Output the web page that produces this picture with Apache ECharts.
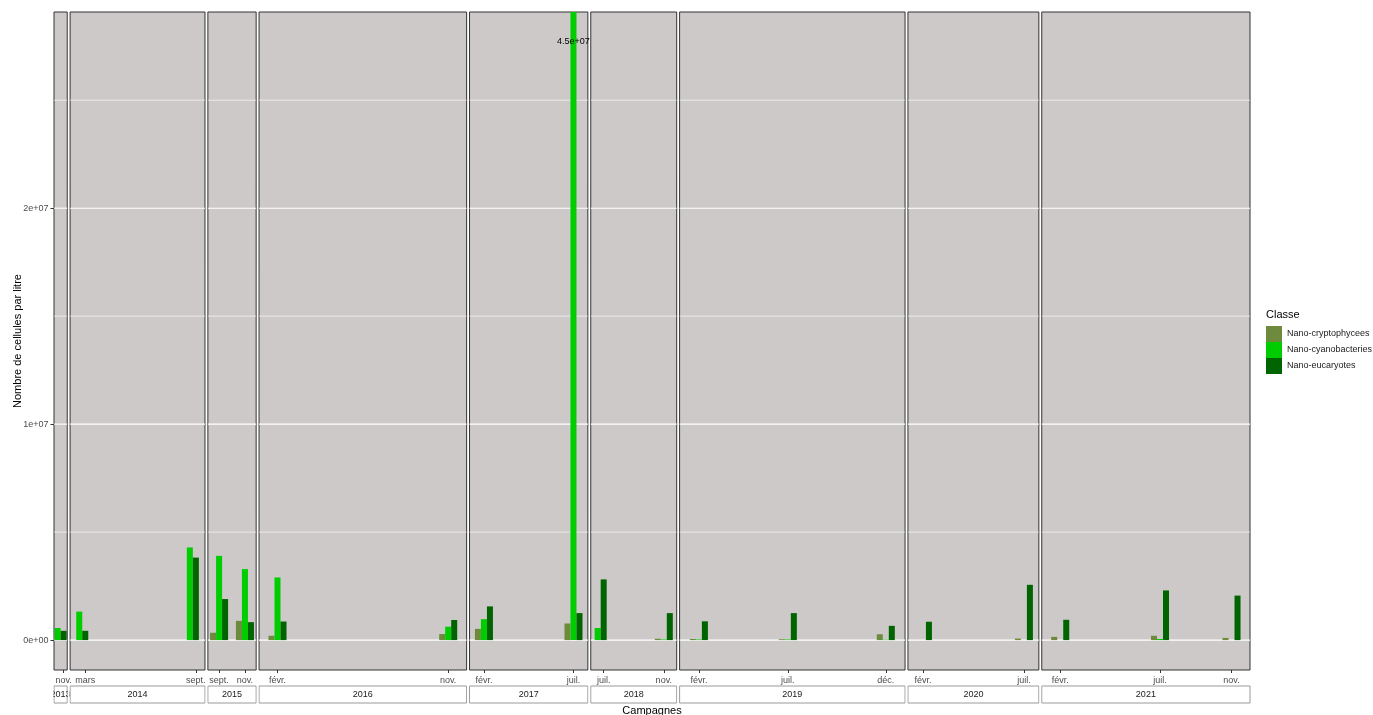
<!DOCTYPE html>
<html>
<head>
<meta charset="utf-8">
<script src="https://cdn.jsdelivr.net/npm/echarts@6/dist/echarts.min.js"></script>
<style>
  html, body { margin: 0; padding: 0; background: #ffffff; }
  #chart { width: 1373px; height: 715px; }
</style>
</head>
<body>
<div id="chart"></div>
<script>
// Sampling campaigns (one date per campaign)
const campaignDates = [
  '2013-11-20',
  '2014-03-12', '2014-09-12',
  '2015-09-20', '2015-11-02',
  '2016-02-10', '2016-11-20',
  '2017-02-10', '2017-07-09',
  '2018-07-25', '2018-11-02',
  '2019-02-10', '2019-07-08', '2019-12-18',
  '2020-02-05', '2020-07-22',
  '2021-02-05', '2021-07-21', '2021-11-17'
];

// Classes shown in the legend
const classes = ['Nano-cryptophycees', 'Nano-cyanobacteries', 'Nano-eucaryotes'];

// Cells per litre for each campaign (null = class not counted that campaign)
const cryptophycees = [null, null, null, 3.4e5, 8.9e5, 2.0e5, 2.8e5, 5.2e5, 7.7e5, null, 6e4, 5e4, 4e4, 2.7e5, 0, 7e4, 1.5e5, 2.0e5, 1.0e5];
const cyanobacteries = [5.6e5, 1.32e6, 4.29e6, 3.9e6, 3.29e6, 2.9e6, 6.2e5, 9.7e5, 4.5e7, 5.6e5, 3e4, 3e4, 3e4, 2e4, 0, 0, 0, 5e4, 0];
const eucaryotes = [4.3e5, 4.3e5, 3.82e6, 1.9e6, 8.3e5, 8.6e5, 9.3e5, 1.56e6, 1.25e6, 2.81e6, 1.25e6, 8.7e5, 1.25e6, 6.6e5, 8.5e5, 2.56e6, 9.4e5, 2.3e6, 2.06e6];

// Y axis breaks
const yTicks = [0, 1e7, 2e7];
const yMinorTicks = [5e6, 1.5e7, 2.5e7];
// Upper display limit; taller bars are clipped and their value written at this height
const yUpper = 2.77e7;

const monthLabels = ['janv.', 'févr.', 'mars', 'avr.', 'mai', 'juin', 'juil.', 'août', 'sept.', 'oct.', 'nov.', 'déc.'];

// ---------------------------------------------------------------------------
const seriesValues = [cryptophycees, cyanobacteries, eucaryotes];
const COLORS = ['#6E8B3D', '#00CD00', '#006400'];
const FONT = "'Liberation Sans', Arial, sans-serif";
const DAY = 86400000;
const SLOT = 10 * DAY;              // width of one dodged bar
const X0 = 54, X1 = 1250, GAP = 2.9, TOP = 12, BOTTOM = 670;
const yMin = -0.05 * yUpper, yMax = 1.05 * yUpper;

// R-style scientific labels: 1e+07, 4.5e+07
function sci(v) {
  const [m, e] = Number(v).toExponential().split('e');
  return m + 'e' + e[0] + e.slice(1).padStart(2, '0');
}
const toTs = s => { const [y, m, d] = s.split('-').map(Number); return new Date(y, m - 1, d).getTime(); };

// Dodge: three slots per campaign, present classes fill them from the left
const camps = campaignDates.map((d, i) => {
  const present = [0, 1, 2].filter(c => seriesValues[c][i] !== null);
  const offsets = {};
  present.forEach((c, k) => { offsets[c] = k - 1; });
  return { i, ts: toTs(d), year: +d.slice(0, 4), offsets };
});

// One panel per year, width proportional to its time span
const years = [...new Set(camps.map(c => c.year))];
const panels = years.map(y => {
  const cs = camps.filter(c => c.year === y);
  let lo = Infinity, hi = -Infinity;
  cs.forEach(c => Object.values(c.offsets).forEach(o => {
    lo = Math.min(lo, c.ts + (o - 0.5) * SLOT);
    hi = Math.max(hi, c.ts + (o + 0.5) * SLOT);
  }));
  const pad = 0.05 * (hi - lo);
  return { year: y, camps: cs, min: lo - pad, max: hi + pad };
});
const totalSpan = panels.reduce((s, p) => s + (p.max - p.min), 0);
const pxPerMs = (X1 - X0 - GAP * (panels.length - 1)) / totalSpan;
let cursor = X0;
panels.forEach(p => { p.left = cursor; p.width = (p.max - p.min) * pxPerMs; cursor += p.width + GAP; });

// White horizontal grid lines (major and minor)
function renderGridLine(params, api) {
  const cs = params.coordSys;
  const py = api.coord([api.value(0), api.value(1)])[1];
  return {
    type: 'line',
    shape: { x1: cs.x, y1: py, x2: cs.x + cs.width, y2: py },
    style: { stroke: '#ffffff', lineWidth: api.value(2) ? 1.1 : 0.6 }
  };
}

// Dodged bar, clipped to the panel; values above the limit get a text label
function renderBar(params, api) {
  const t = api.value(0), v = api.value(1), off = api.value(2);
  const cs = params.coordSys;
  const p0 = api.coord([t + (off - 0.5) * SLOT, v]);
  const p1 = api.coord([t + (off + 0.5) * SLOT, 0]);
  const rect = echarts.graphic.clipRectByRect(
    { x: p0[0], y: p0[1], width: p1[0] - p0[0], height: p1[1] - p0[1] },
    { x: cs.x, y: cs.y, width: cs.width, height: cs.height }
  );
  const children = [];
  if (rect && rect.height > 0) {
    children.push({ type: 'rect', shape: rect, style: { fill: api.visual('color') } });
  }
  if (v > yUpper) {
    const q = api.coord([t + off * SLOT, yUpper]);
    children.push({
      type: 'text', z2: 10,
      style: {
        text: sci(v), x: q[0], y: q[1], fill: '#000000', font: '9px ' + FONT,
        align: 'center', verticalAlign: 'middle'
      }
    });
  }
  return { type: 'group', children };
}

const grids = [], xAxes = [], yAxes = [], series = [], graphics = [];
panels.forEach((p, g) => {
  grids.push({
    left: p.left, top: TOP, width: p.width, height: BOTTOM - TOP,
    show: true, backgroundColor: '#CDC9C9', borderColor: '#333333', borderWidth: 1
  });
  const ticks = p.camps.map(c => c.ts);
  xAxes.push({
    type: 'value', gridIndex: g, min: p.min, max: p.max, scale: true, position: 'bottom',
    axisLine: { show: false, onZero: false }, splitLine: { show: false },
    axisTick: { show: true, customValues: ticks, length: 3, lineStyle: { color: '#333333', width: 1 } },
    axisLabel: {
      customValues: ticks, formatter: v => monthLabels[new Date(v).getMonth()],
      fontSize: 9, fontFamily: FONT, color: '#4D4D4D', margin: 6, hideOverlap: false
    }
  });
  const first = g === 0;
  yAxes.push({
    type: 'value', gridIndex: g, min: yMin, max: yMax,
    axisLine: { show: false, onZero: false }, splitLine: { show: false },
    axisTick: { show: first, customValues: yTicks, length: 3.5, lineStyle: { color: '#333333' } },
    axisLabel: { show: first, customValues: yTicks, formatter: sci, fontSize: 9, fontFamily: FONT, color: '#4D4D4D', margin: 5.5 },
    name: first ? 'Nombre de cellules par litre' : '',
    nameLocation: 'middle', nameGap: 31, nameMoveOverlap: false,
    nameTextStyle: { fontSize: 11, fontFamily: FONT, color: '#000000' }
  });
  series.push({
    type: 'custom', name: 'grille', xAxisIndex: g, yAxisIndex: g, silent: true, z: 1,
    encode: { x: 0, y: 1 },
    data: yTicks.map(v => [p.min, v, 1]).concat(yMinorTicks.map(v => [p.min, v, 0])),
    renderItem: renderGridLine
  });
  classes.forEach((name, c) => {
    series.push({
      type: 'custom', name, xAxisIndex: g, yAxisIndex: g, z: 2, silent: true,
      itemStyle: { color: COLORS[c] },
      encode: { x: 0, y: 1 },
      data: p.camps.filter(cp => cp.offsets[c] !== undefined)
        .map(cp => [cp.ts, seriesValues[c][cp.i], cp.offsets[c]]),
      renderItem: renderBar
    });
  });

  // Year strip below the month labels
  graphics.push({
    type: 'rect', z: 10,
    shape: { x: p.left, y: 686, width: p.width, height: 17 },
    style: { fill: '#ffffff', stroke: '#9A9A9A', lineWidth: 1 }
  });
  graphics.push({
    type: 'text', z: 20, x: p.left + p.width / 2, y: 694.5,
    style: { text: String(p.year), fill: '#1A1A1A', font: '9px ' + FONT, align: 'center', verticalAlign: 'middle' }
  });
  // Keep strip text inside its box
  if (g === 0) {
    graphics.push({ type: 'rect', z: 30, shape: { x: 0, y: 684, width: p.left - 0.6, height: 22 }, style: { fill: '#ffffff' } });
  }
  if (g < panels.length - 1) {
    const gx = p.left + p.width + 0.6;
    graphics.push({ type: 'rect', z: 30, shape: { x: gx, y: 684, width: GAP - 1.2, height: 22 }, style: { fill: '#ffffff' } });
  }
});

graphics.push({
  type: 'text', z: 20, x: (X0 + X1) / 2, y: 705,
  style: { text: 'Campagnes', fill: '#000000', font: '11px ' + FONT, align: 'center', verticalAlign: 'top' }
});
graphics.push({
  type: 'text', z: 20, x: 1266, y: 315,
  style: { text: 'Classe', fill: '#000000', font: '11px ' + FONT, align: 'left', verticalAlign: 'middle' }
});

const chart = echarts.init(document.getElementById('chart'), null, { renderer: 'canvas' });
chart.setOption({
  animation: false,
  backgroundColor: '#ffffff',
  grid: grids,
  xAxis: xAxes,
  yAxis: yAxes,
  legend: {
    data: classes, orient: 'vertical', left: 1266, top: 326, padding: 0,
    icon: 'rect', itemWidth: 16, itemHeight: 16, itemGap: 0, selectedMode: false,
    textStyle: { fontSize: 9, fontFamily: FONT, color: '#1A1A1A' }
  },
  graphic: { elements: graphics },
  series
});
</script>
</body>
</html>
